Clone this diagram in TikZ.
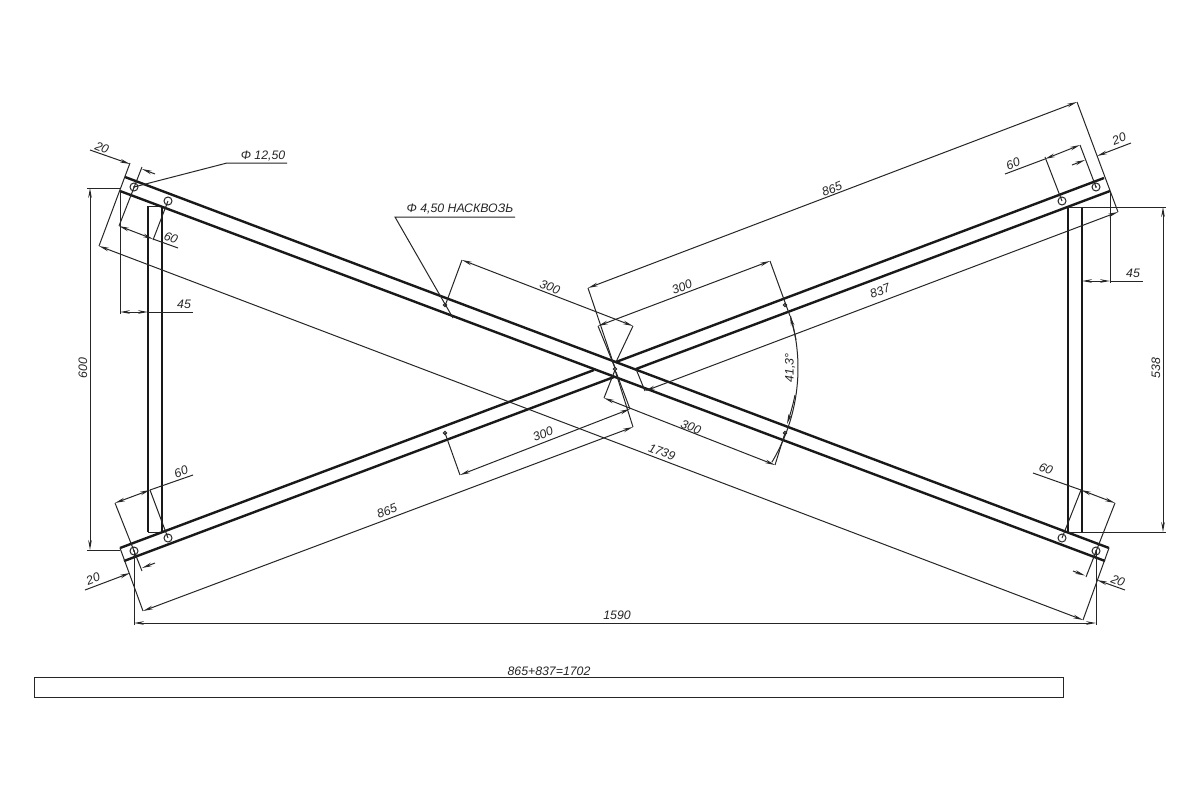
\documentclass[tikz,border=0pt]{standalone}
\usepackage{fontspec}
\setmainfont{Liberation Sans}
\usetikzlibrary{arrows.meta}
\tikzset{
  beam/.style={line width=2.4pt,black!90},
  thinl/.style={line width=1pt,black!85},
  darr/.style={thinl,-{Stealth[length=10pt,width=3.6pt]}},
  ddarr/.style={thinl,{Stealth[length=10pt,width=3.6pt]}-{Stealth[length=10pt,width=3.6pt]}},
  lbl/.style={inner sep=0pt,font=\fontsize{12.3}{12.3}\selectfont\itshape,text=black!85},
  holeb/.style={thinl,fill=white},
  holes/.style={thinl,fill=white}
}
\begin{document}
\begin{tikzpicture}[x=1pt,y=-1pt]
\useasboundingbox (0,0) rectangle (1200,800);
\fill[white] (0,0) rectangle (1200,800);
% uprights
\draw[beam] (148,206) -- (148,532);
\draw[beam] (162,206) -- (162,532);
\draw[thinl] (148,206) -- (162,206) (148,532) -- (162,532);
\draw[beam] (1068,207) -- (1068,532);
\draw[beam] (1082,207) -- (1082,532);
% beam A continuous
\draw[beam] (125,177) -- (1109,548);
\draw[beam] (120,191) -- (1105,561);
% beam B interrupted
\draw[beam] (120,548) -- (594,370);
\draw[beam] (124,561) -- (614,377);
\draw[beam] (616,362) -- (1104,178);
\draw[beam] (636,369) -- (1110,191);
% holes
\foreach \p in {(134,187),(168,201),(134,551),(168,538),(1096,187),(1062,201),(1096,551),(1062,538)}
  \draw[holeb] \p circle (4);
\foreach \p in {(134,187),(1096,187),(134,551),(1096,551)}
  \fill \p circle (0.9);
\foreach \p in {(445,305),(785,305),(445,433),(785,433),(615,369)}
  \draw[holes] \p circle (1.6);
% extension lines, left top
\draw[thinl] (130,163) -- (99,246);
\draw[thinl] (142,167) -- (119,226);
\draw[thinl] (168,201) -- (153,240);
\draw[thinl] (120,191) -- (120,314);
\draw[thinl] (87,188) -- (120,188);
% left bottom
\draw[thinl] (87,550) -- (120,550);
\draw[thinl] (120,548) -- (143,611);
\draw[thinl] (115,503) -- (142,571);
\draw[thinl] (150,490) -- (168,538);
\draw[thinl] (134,551) -- (134,625);
% right top
\draw[thinl] (1077,102) -- (1118,212);
\draw[thinl] (1080,145) -- (1096,187);
\draw[thinl] (1045,157) -- (1062,201);
\draw[thinl] (1110,191) -- (1110,283);
\draw[thinl] (1068,207) -- (1166,207);
% right bottom
\draw[thinl] (1068,532) -- (1166,532);
\draw[thinl] (1081,490) -- (1062,538);
\draw[thinl] (1115,503) -- (1086,577);
\draw[thinl] (1109,548) -- (1083,620);
\draw[thinl] (1096,551) -- (1096,625);
% centre extension lines
\draw[thinl] (588,288) -- (615,368);
\draw[thinl] (633,427) -- (615,370);
\draw[thinl] (598,326) -- (615,368);
\draw[thinl] (633,326) -- (616,362);
\draw[thinl] (604,398) -- (615,370);
\draw[thinl] (630,409) -- (616,372);
\draw[thinl] (645,391) -- (636,369);
\draw[thinl] (462,260) -- (445,306);
\draw[thinl] (770,261) -- (790,316);
\draw[thinl] (460,475) -- (445,433);
\draw[thinl] (775,465) -- (785,433);
% linear dimensions
\draw[ddarr] (90,188) -- (90,550);
\draw[ddarr] (1163,207) -- (1163,532);
\draw[ddarr] (134,623) -- (1096,623);
\draw[ddarr] (99,246) -- (1083,620);
\draw[ddarr] (143,611) -- (633,427);
\draw[ddarr] (588,288) -- (1077,102);
\draw[ddarr] (645,391) -- (1118,212);
\draw[ddarr] (462,260) -- (633,326);
\draw[ddarr] (598,326) -- (770,261);
\draw[ddarr] (604,398) -- (775,465);
\draw[ddarr] (460,475) -- (630,409);
% 45 dims
\draw[ddarr] (120,312) -- (148,312);
\draw[thinl] (148,312) -- (193,312);
\draw[ddarr] (1082,281) -- (1110,281);
\draw[thinl] (1110,281) -- (1143,281);
% 60 dims
\draw[ddarr] (119,226) -- (153,239);
\draw[thinl] (153,239) -- (178,248);
\draw[ddarr] (1045,159) -- (1080,145);
\draw[thinl] (1045,159) -- (1005,174);
\draw[ddarr] (115,503) -- (150,490);
\draw[thinl] (150,490) -- (193,475);
\draw[ddarr] (1081,490) -- (1115,503);
\draw[thinl] (1081,490) -- (1033,473);
% 20 dims
\draw[darr] (90,150) -- (130,164);
\draw[darr] (155,174) -- (142,169);
\draw[darr] (1072,165) -- (1085,160);
\draw[darr] (1131,143) -- (1097,156);
\draw[darr] (85,590) -- (130,573);
\draw[darr] (155,563) -- (142,568);
\draw[darr] (1073,571) -- (1085,575.5);
\draw[darr] (1125,590) -- (1097,580);
% leaders
\draw[thinl] (134,187) -- (227,163) -- (287,163);
\draw[thinl] (453,318) -- (395,217) -- (515,217);
% angle dimension
\draw[thinl,domain=-16.5:31,samples=40,smooth] plot ({615+183*cos(\x)},{368+183*sin(\x)});
\draw[darr] (796,340) .. controls (794,330) and (792,323) .. (790,316);
\draw[darr] (795,395) .. controls (793,405) and (790,415) .. (787,424);
% bottom bar
\draw[thinl] (34,677) rectangle (1063,697);
% labels
\node[lbl,rotate=-21] (t20a) at (102,148) {20};
\node[lbl,rotate=21] (t20b) at (1119,139) {20};
\node[lbl,rotate=21] (t20c) at (93,579) {20};
\node[lbl,rotate=-21] (t20d) at (1118,581) {20};
\node[lbl,rotate=-21] (t60a) at (171,238) {60};
\node[lbl,rotate=21] (t60b) at (1013,164) {60};
\node[lbl,rotate=21] (t60c) at (181,472) {60};
\node[lbl,rotate=-21] (t60d) at (1046,469) {60};
\node[lbl] (t45a) at (184,304) {45};
\node[lbl] (t45b) at (1133,273) {45};
\node[lbl,rotate=90] (t600) at (83,368) {600};
\node[lbl,rotate=90] (t538) at (1156,368) {538};
\node[lbl] (t1590) at (617,615) {1590};
\node[lbl,rotate=-21] (t1739) at (662,452) {1739};
\node[lbl,rotate=21] (t865a) at (832,189) {865};
\node[lbl,rotate=21] (t865b) at (387,511) {865};
\node[lbl,rotate=21] (t837) at (880,291) {837};
\node[lbl,rotate=-21] (t300a) at (550,287) {300};
\node[lbl,rotate=21] (t300b) at (682,287) {300};
\node[lbl,rotate=-21] (t300c) at (691,427) {300};
\node[lbl,rotate=21] (t300d) at (543,434) {300};
\node[lbl,rotate=90] (tang) at (790,368) {41,3°};
\node[lbl] (tphia) at (263,156) {Φ 12,50};
\node[lbl] (tphib) at (460,209) {Φ 4,50 НАСКВОЗЬ};
\node[lbl] (tbar) at (549,671) {865+837=1702};
\end{tikzpicture}
\end{document}
